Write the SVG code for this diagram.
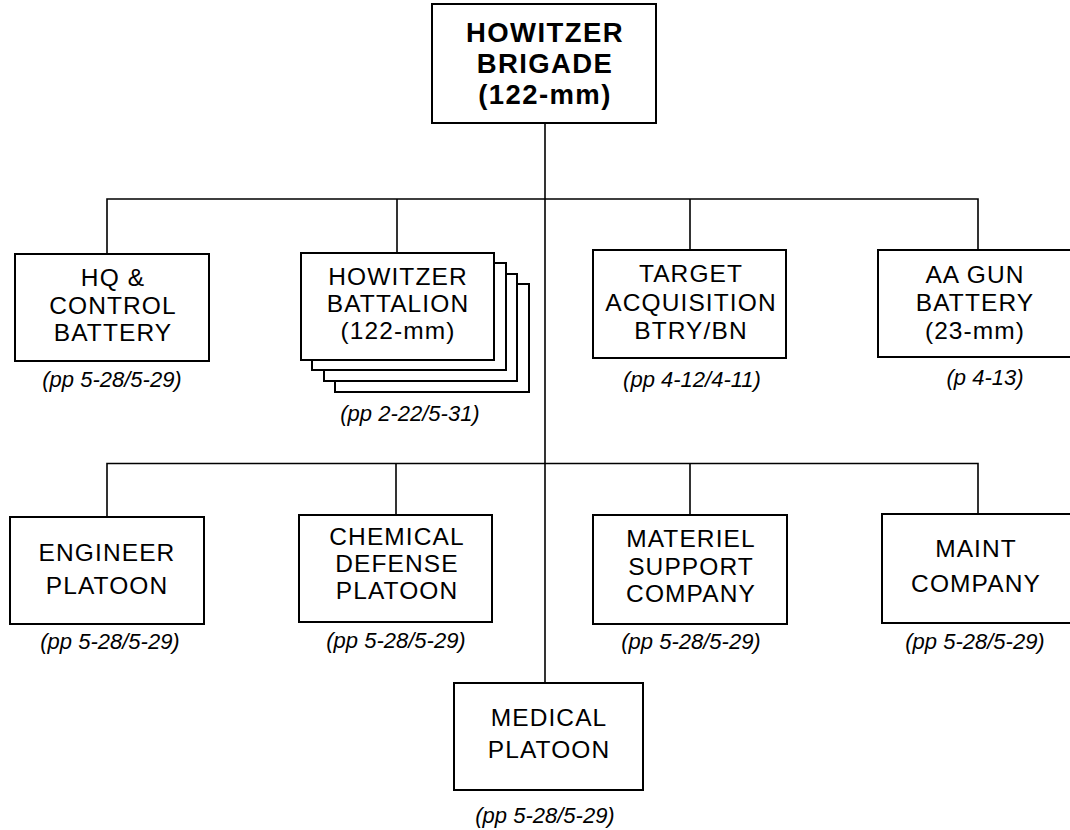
<svg xmlns="http://www.w3.org/2000/svg" width="1070" height="830" viewBox="0 0 1070 830">
<style>
.box{fill:#fff;stroke:#000;stroke-width:2}
.t{font-family:"Liberation Sans",Arial,sans-serif;font-size:24.5px;letter-spacing:1.1px;fill:#000;text-anchor:middle}
.tb{font-family:"Liberation Sans",Arial,sans-serif;font-size:27.5px;letter-spacing:1.4px;font-weight:bold;fill:#000;text-anchor:middle}
.ref{font-family:"Liberation Sans",Arial,sans-serif;font-size:22px;font-style:italic;fill:#000;text-anchor:middle}
.ln{fill:none;stroke:#000;stroke-width:1.6}
</style>
<rect width="1070" height="830" fill="#fff"/>
<g id="connectors">
<path class="ln" d="M545,123 V683"/>
<path class="ln" d="M107,254 V199 H978 V250"/>
<path class="ln" d="M397,253 V199"/>
<path class="ln" d="M690,250 V199"/>
<path class="ln" d="M107,517 V463.5 H978 V514"/>
<path class="ln" d="M396,515 V463.5"/>
<path class="ln" d="M690,515 V463.5"/>
</g>
<g id="brigade">
<rect class="box" x="432" y="4" width="224" height="119"/>
<text class="tb" x="545" y="41.5">HOWITZER</text>
<text class="tb" x="545" y="72.5">BRIGADE</text>
<text class="tb" x="545" y="103.5">(122-mm)</text>
</g>
<g id="hq">
<rect class="box" x="15" y="254" width="194" height="107"/>
<text class="t" x="113" y="286">HQ &amp;</text>
<text class="t" x="113" y="313.5">CONTROL</text>
<text class="t" x="113" y="341">BATTERY</text>
<text class="ref" x="112" y="387">(pp 5-28/5-29)</text>
</g>
<g id="battalion">
<rect class="box" x="335" y="284" width="194" height="108"/>
<rect class="box" x="324" y="274" width="193" height="107"/>
<rect class="box" x="312" y="263" width="194" height="107"/>
<rect class="box" x="301" y="253" width="193" height="107"/>
<text class="t" x="398" y="285">HOWITZER</text>
<text class="t" x="398" y="312">BATTALION</text>
<text class="t" x="398" y="339">(122-mm)</text>
<text class="ref" x="410" y="421">(pp 2-22/5-31)</text>
</g>
<g id="target">
<rect class="box" x="593" y="250" width="193" height="108"/>
<text class="t" x="691" y="282">TARGET</text>
<text class="t" x="691" y="310.5">ACQUISITION</text>
<text class="t" x="691" y="339">BTRY/BN</text>
<text class="ref" x="692" y="387">(pp 4-12/4-11)</text>
</g>
<g id="aa">
<rect class="box" x="878" y="250" width="194" height="107"/>
<text class="t" x="975" y="283">AA GUN</text>
<text class="t" x="975" y="311">BATTERY</text>
<text class="t" x="975" y="338.5">(23-mm)</text>
<text class="ref" x="985" y="385">(p 4-13)</text>
</g>
<g id="engineer">
<rect class="box" x="10" y="517" width="194" height="107"/>
<text class="t" x="107" y="561">ENGINEER</text>
<text class="t" x="107" y="594">PLATOON</text>
<text class="ref" x="110" y="649">(pp 5-28/5-29)</text>
</g>
<g id="chemical">
<rect class="box" x="299" y="515" width="193" height="107"/>
<text class="t" x="397" y="545">CHEMICAL</text>
<text class="t" x="397" y="572">DEFENSE</text>
<text class="t" x="397" y="599">PLATOON</text>
<text class="ref" x="396" y="648">(pp 5-28/5-29)</text>
</g>
<g id="materiel">
<rect class="box" x="593" y="515" width="194" height="109"/>
<text class="t" x="691" y="547">MATERIEL</text>
<text class="t" x="691" y="574.5">SUPPORT</text>
<text class="t" x="691" y="602">COMPANY</text>
<text class="ref" x="691" y="649">(pp 5-28/5-29)</text>
</g>
<g id="maint">
<rect class="box" x="882" y="514" width="190" height="109"/>
<text class="t" x="976" y="557">MAINT</text>
<text class="t" x="976" y="592">COMPANY</text>
<text class="ref" x="975" y="649">(pp 5-28/5-29)</text>
</g>
<g id="medical">
<rect class="box" x="454" y="683" width="189" height="107"/>
<text class="t" x="549" y="726">MEDICAL</text>
<text class="t" x="549" y="758">PLATOON</text>
<text class="ref" x="545" y="823">(pp 5-28/5-29)</text>
</g>
</svg>
